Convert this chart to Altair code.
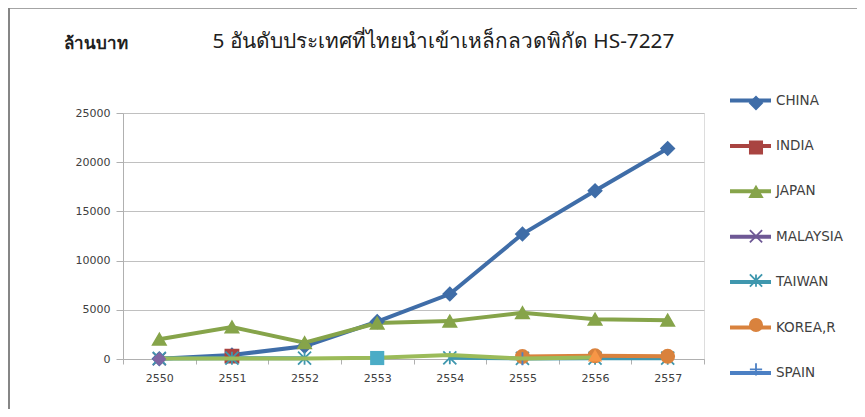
import altair as alt
import pandas as pd

years = ["2550", "2551", "2552", "2553", "2554", "2555", "2556", "2557"]
countries = ["CHINA", "INDIA", "JAPAN", "MALAYSIA", "TAIWAN", "KOREA,R", "SPAIN"]
colors = ["#3F6DA8", "#A94441", "#86A44A", "#6E5895", "#3F97AE", "#D9823D", "#4C80C4"]
X_PATH = "M-1,-1L1,1M-1,1L1,-1"
AST_PATH = "M-1,-1L1,1M-1,1L1,-1M0,-1L0,1"
PLUS_PATH = "M-1,0L1,0M0,-1L0,1"
shapes = ["diamond", "square", "triangle-up", X_PATH, AST_PATH, "circle", PLUS_PATH]

series = {
    "CHINA":    [30, 400, 1300, 3800, 6600, 12700, 17100, 21400],
    "INDIA":    [None, 300, None, None, None, None, None, None],
    "JAPAN":    [2000, 3250, 1650, 3650, 3850, 4700, 4050, 3950],
    "MALAYSIA": [20, None, None, None, None, None, None, None],
    "TAIWAN":   [60, 80, 80, None, 120, 60, 80, 80],
    "KOREA,R":  [None, None, None, None, None, 250, 330, 280],
    "SPAIN":    [None, None, None, None, None, 30, None, None],
}

# further series drawn in the original without a legend entry
extra_names = ["e1", "e2", "e3"]
extra_colors = ["#8064A2", "#4BACC6", "#F79646"]
extra_shapes = ["diamond", "square", "triangle-up"]
extra_series = {
    "e1": [0, None, None, None, None, None, None, None],
    "e2": [None, None, None, 100, None, None, None, None],
    "e3": [None, None, None, None, None, None, 380, None],
}
green_line = [40, 60, 60, 120, 400, 40, 150, None]

rows = []
for c in countries:
    for y, v in zip(years, series[c]):
        rows.append({"year": y, "country": c, "value": v})
df = pd.DataFrame(rows)

erows = []
for c in extra_names:
    for y, v in zip(years, extra_series[c]):
        if v is not None:
            erows.append({"year": y, "s": c, "value": v})
edf = pd.DataFrame(erows)
gdf = pd.DataFrame({"year": years, "value": green_line})

FONT = "DejaVu Sans"

x_enc = alt.X("year:N", title=None, sort=years,
              scale=alt.Scale(paddingInner=0, paddingOuter=0),
              axis=alt.Axis(labelAngle=0, tickBand="extent", labelFontSize=11,
                            labelColor="#404040", labelPadding=8, tickSize=5,
                            tickColor="#b0b0b0", domainColor="#b0b0b0", grid=False,
                            labelFont=FONT))
y_enc = alt.Y("value:Q", scale=alt.Scale(domain=[0, 25000]),
              axis=alt.Axis(values=[0, 5000, 10000, 15000, 20000, 25000], format="d",
                            labelFontSize=11, labelColor="#404040", labelPadding=6,
                            tickSize=7, tickColor="#b0b0b0", domainColor="#b0b0b0",
                            gridColor="#c0c0c0", labelFont=FONT,
                            title="ล้านบาท", titleAngle=0, titleX=-60, titleY=-61,
                            titleAlign="left", titleFontSize=17, titleFontWeight="bold",
                            titleColor="#202020", titleFont="Noto Sans"))

cscale = alt.Scale(domain=countries, range=colors)
sscale = alt.Scale(domain=countries, range=shapes)

lines = alt.Chart(df).mark_line(strokeWidth=4).encode(
    x=x_enc, y=y_enc,
    color=alt.Color("country:N", scale=cscale, sort=countries,
                    legend=alt.Legend(orient="none", legendX=605, legendY=-35, title=None,
                                      symbolType="stroke", symbolSize=1681,
                                      symbolStrokeWidth=4, labelFontSize=13.5,
                                      labelFont=FONT, labelColor="#404040",
                                      rowPadding=14.4, labelOffset=3, padding=0)),
)

points = alt.Chart(df).mark_point(filled=True, size=170, strokeWidth=1.8, opacity=1).encode(
    x=x_enc, y=y_enc,
    color=alt.Color("country:N", scale=cscale, sort=countries,
                    legend=alt.Legend(orient="none", legendX=623, legendY=-20, title=None,
                                      symbolSize=150, symbolStrokeWidth=1.8,
                                      labelFontSize=20, labelFont=FONT, labelOpacity=0,
                                      labelExpr="''",
                                      rowPadding=24.4, padding=0)),
    stroke=alt.Stroke("country:N", scale=cscale, sort=countries, legend=None),
    shape=alt.Shape("country:N", scale=sscale, sort=countries, legend=None),
)

green = alt.Chart(gdf).mark_line(strokeWidth=4, color="#9BBB59").encode(x=x_enc, y=y_enc)

extra_pts = alt.Chart(edf).mark_point(filled=True, size=200, opacity=1).encode(
    x=x_enc, y=y_enc,
    color=alt.Color("s:N", scale=alt.Scale(domain=extra_names, range=extra_colors), legend=None),
    shape=alt.Shape("s:N", scale=alt.Scale(domain=extra_names, range=extra_shapes), legend=None),
)

# chart frame (top and left edges of the original's border)
frame_left = alt.Chart().mark_rule(color="#868686", strokeWidth=2).encode(
    x=alt.value(-114), y=alt.value(-105), y2=alt.value(304))
frame_top = alt.Chart().mark_rule(color="#868686", strokeWidth=1.5).encode(
    x=alt.value(-114), x2=alt.value(740), y=alt.value(-105))

chart = alt.layer(lines, points, green, extra_pts, frame_left, frame_top).resolve_scale(
    color="independent", shape="independent", stroke="independent"
).properties(
    width=581, height=246,
    autosize=alt.AutoSizeParams(type="none"),
    padding={"left": 115, "top": 105, "right": 153, "bottom": 50},
    title=alt.TitleParams("5 อันดับประเทศที่ไทยนำเข้าเหล็กลวดพิกัด HS-7227",
                          fontSize=20.8, font="Noto Sans", fontWeight="normal",
                          color="#202020", dx=30, offset=-46, anchor="middle"),
).configure_view(stroke=None).configure(background="white")

chart.save("out.html", embed_options={"renderer": "svg", "actions": False})
